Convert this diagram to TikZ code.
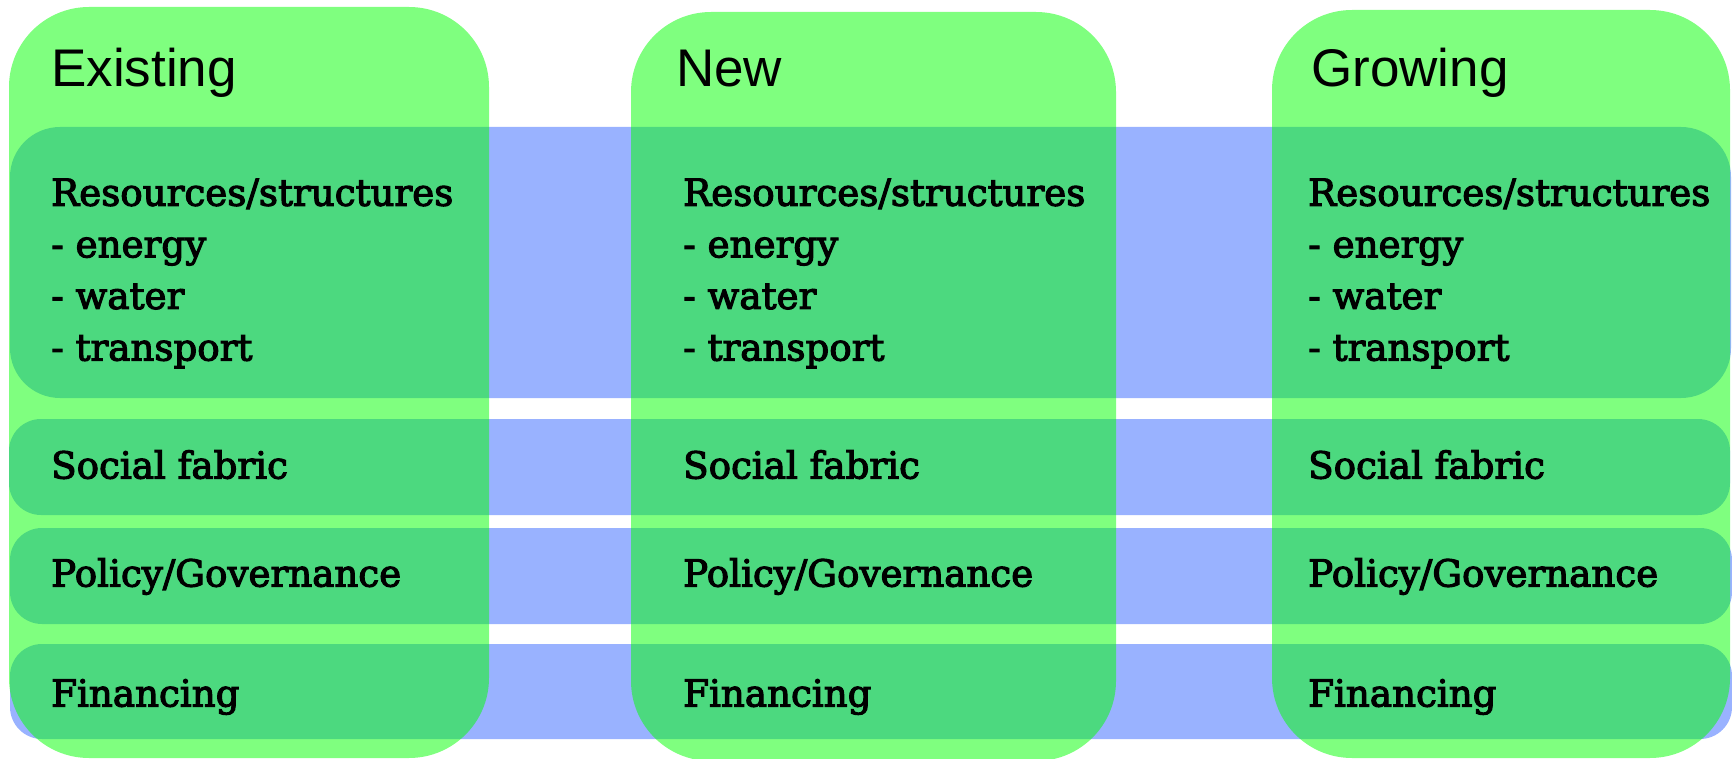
\documentclass[tikz,border=0pt]{standalone}
\usepackage{fontspec}
\setmainfont{DejaVu Serif}
\newfontfamily\bodyfont{DejaVu Serif}[FakeBold=3]
\newfontfamily\headfont{Liberation Sans}
\definecolor{bandblue}{RGB}{51,102,255}
\definecolor{colgreen}{RGB}{0,255,0}
\tikzset{
  band/.style={fill=bandblue, fill opacity=0.5, rounded corners=#1},
  column/.style={fill=colgreen, fill opacity=0.5, rounded corners=80pt},
  head/.style={anchor=base west, inner sep=0pt, font=\headfont\fontsize{53}{60}\selectfont},
  item/.style={anchor=base west, inner sep=0pt, font=\bodyfont\fontsize{37.2}{51.6}\selectfont},
  list/.style={item, align=left},
}
\begin{document}
\begin{tikzpicture}[x=1pt,y=-1pt]
\useasboundingbox (0,0) rectangle (1732,759);
% horizontal bands (one per theme)
\fill[band=50pt] (10,127) rectangle (1731,398);
\fill[band=32pt] (9,419) rectangle (1730,515);
\fill[band=32pt] (10,528) rectangle (1732,624);
\fill[band=32pt] (10,644) rectangle (1732,739);
% vertical columns (one per city type)
\fill[column] (9,7) rectangle (489,758);
\fill[column] (631,12) rectangle (1116,761);
\fill[column] (1272,10) rectangle (1730,758);
% labels; the list node is anchored on the baseline of its last line
\foreach \hx/\name/\bx/\id in {51/Existing/51/a, 676/New/683/b, 1311/Growing/1308/c} {
  \node[head] (head\id) at (\hx,87) {\name};
  \node[list] (res\id) at (\bx,360.5) {Resources/structures\\- energy\\- water\\- transport};
  \node[item] (soc\id) at (\bx,478.5) {Social fabric};
  \node[item] (pol\id) at (\bx,586.5) {Policy/Governance};
  \node[item] (fin\id) at (\bx,706.5) {Financing};
}
\end{tikzpicture}
\end{document}
